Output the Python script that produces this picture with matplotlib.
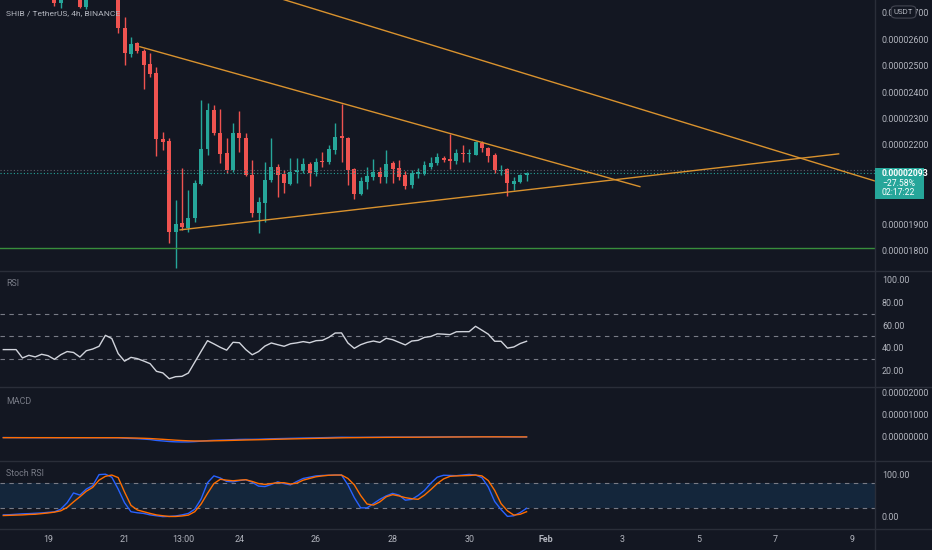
import numpy as np
import matplotlib.pyplot as plt
from matplotlib.lines import Line2D
from matplotlib.patches import Rectangle, FancyBboxPatch

plt.rcParams['font.family'] = ['Roboto', 'DejaVu Sans']

# 4h candles, bar number counted from Jan 19 00:00 (prices in 1e-8 USDT)
first_bar = -7
opens = [2860, 2850, 2870, 2855, 2815, 2840, 2810, 2785, 2790, 2738, 2775, 2800, 2790, 2722, 2770, 2795, 2820, 2810,
         2800, 2643, 2544, 2586, 2556, 2506, 2472, 2222, 2215, 1870, 1904, 1885, 1923, 2052, 2185, 2332, 2245, 2169,
         2105, 2245, 2226, 2086, 1942, 1980, 2067, 2116, 2090, 2052, 2097, 2101, 2128, 2097, 2139, 2135, 2181, 2234,
         2226, 2109, 2014, 2060, 2078, 2097, 2078, 2132, 2113, 2086, 2048, 2090, 2090, 2116, 2132, 2150, 2147, 2139,
         2169, 2166, 2162, 2207, 2188, 2162, 2101, 2109, 2052, 2060, 2086]
highs = [2890, 2880, 2900, 2870, 2850, 2860, 2830, 2810, 2805, 2800, 2820, 2830, 2805, 2790, 2810, 2830, 2850, 2830,
         2815, 2685, 2609, 2590, 2563, 2548, 2495, 2249, 2226, 1991, 2113, 2029, 2067, 2370, 2359, 2351, 2336, 2226,
         2283, 2328, 2245, 2143, 2003, 2135, 2226, 2128, 2105, 2150, 2150, 2150, 2135, 2150, 2173, 2200, 2283, 2355,
         2230, 2113, 2078, 2116, 2147, 2116, 2181, 2139, 2143, 2101, 2105, 2113, 2139, 2154, 2169, 2158, 2241, 2185,
         2200, 2185, 2215, 2215, 2192, 2169, 2124, 2113, 2078, 2090, 2097]
lows = [2830, 2820, 2845, 2800, 2790, 2800, 2770, 2760, 2725, 2719, 2760, 2765, 2718, 2716, 2755, 2780, 2800, 2785,
        2624, 2503, 2533, 2548, 2412, 2457, 2158, 2181, 1829, 1734, 1878, 1870, 1908, 2048, 2162, 2237, 2132, 2094,
        2097, 2173, 2082, 1927, 1866, 1908, 2060, 2003, 2018, 2048, 2056, 2094, 2044, 2082, 2116, 2128, 2166, 2135,
        2048, 1995, 2010, 2033, 2067, 2056, 2056, 2056, 2067, 2033, 2037, 2075, 2086, 2109, 2124, 2135, 2109, 2128,
        2135, 2135, 2162, 2173, 2135, 2094, 2086, 2007, 2029, 2056, 2063]
closes = [2850, 2870, 2855, 2815, 2840, 2810, 2785, 2790, 2738, 2775, 2800, 2790, 2722, 2770, 2795, 2820, 2810, 2800,
          2643, 2548, 2582, 2556, 2503, 2469, 2222, 2211, 1870, 1900, 1889, 1923, 2056, 2185, 2332, 2245, 2166, 2105,
          2245, 2226, 2086, 1942, 1984, 2067, 2116, 2086, 2056, 2097, 2105, 2128, 2094, 2135, 2135, 2185, 2230, 2226,
          2105, 2014, 2063, 2082, 2097, 2078, 2128, 2109, 2078, 2044, 2094, 2097, 2124, 2132, 2154, 2143, 2139, 2169,
          2166, 2169, 2211, 2188, 2158, 2105, 2105, 2056, 2063, 2086, 2093]

rsi = [38.5, 38.5, 38.5, 31.2, 33.5, 32.1, 34.4, 33.2, 30.0, 34.0, 36.8, 36.0, 32.0, 37.5, 39.0, 41.4, 51.0, 48.2,
       35.0, 28.4, 31.7, 30.6, 28.5, 26.2, 19.5, 18.1, 13.0, 14.8, 15.1, 18.0, 27.5, 37.0, 46.3, 43.5, 40.5, 38.0,
       44.9, 44.5, 38.5, 34.0, 36.8, 41.6, 44.3, 42.8, 41.4, 43.6, 44.4, 45.5, 44.5, 46.3, 46.6, 49.2, 53.0, 53.1,
       44.3, 39.6, 42.8, 44.8, 46.0, 44.8, 48.4, 47.2, 44.9, 42.6, 46.0, 46.6, 49.2, 50.0, 52.3, 52.0, 51.6, 54.1,
       54.2, 54.2, 58.9, 55.5, 52.0, 45.8, 45.8, 39.8, 40.8, 43.8, 45.8]

macd = [-30, -32, -33, -35, -36, -36, -37, -37, -38, -38, -38, -39, -39, -39, -39, -39, -40, -40,
        -40, -60, -70, -80, -100, -120, -160, -185, -210, -225, -230, -228, -215, -195, -170, -155, -145, -138,
        -125, -115, -110, -110, -105, -95, -85, -78, -72, -65, -58, -52, -48, -42, -36, -30, -22, -16,
        -17, -20, -20, -18, -15, -14, -11, -10, -10, -11, -10, -9, -7, -5, -2, 0, 1, 3,
        4, 5, 7, 7, 6, 3, 2, -2, -4, -4, -4]
signal = [-35, -35, -35, -35, -35, -35, -35, -35, -36, -36, -36, -36, -36, -37, -37, -37, -37, -37,
          -38, -42, -48, -54, -63, -75, -92, -110, -130, -149, -165, -178, -185, -187, -184, -178, -172, -165,
          -157, -149, -141, -135, -129, -122, -114, -107, -100, -93, -86, -79, -73, -67, -61, -55, -48, -42,
          -37, -34, -31, -28, -26, -23, -21, -19, -17, -16, -15, -14, -12, -11, -9, -7, -5, -4,
          -2, -1, 0, 2, 2, 3, 2, 2, 1, 0, 0]

stoch_k = [4.5, 5.0, 6.0, 7.0, 7.5, 8.3, 9.0, 10.5, 11.5, 18, 33, 56, 51, 65, 73, 99, 100, 93,
           65, 33, 12, 9.5, 8, 4.5, 2.5, 0.5, 1, 2, 4.5, 8, 18, 42, 80, 96, 91, 83,
           82, 85, 87, 81, 72, 71, 76, 82, 78, 75, 83, 90, 93, 96, 97, 97.5, 98, 98,
           75, 45, 21, 21, 31, 41, 49, 55, 51, 39, 41, 50, 62, 79, 93, 97.5, 97, 96.5,
           98, 99.5, 98, 92, 70, 36, 17, 1, 2.5, 10, 20]
stoch_d = [3.0, 3.5, 4.0, 4.5, 5.5, 6.0, 7.5, 9.0, 11, 14, 22, 35, 47, 60, 69, 86, 95, 98,
           92, 58, 27, 16, 12, 8, 4.5, 2.5, 0.8, 0.8, 2, 4, 12, 30, 55, 78, 88, 86,
           84.5, 86, 87, 83, 78, 76, 78, 80, 80, 77, 79, 86, 90, 94, 96, 97.5, 98, 98,
           90, 75, 50, 30, 27.5, 35, 47, 52, 49, 45, 42.5, 41, 51, 64, 78, 89, 95, 96,
           96.5, 97, 98, 96, 85, 62, 31, 14, 4, 6, 12]

# drawn lines: (bar, price) anchor pairs
far_line_bars, far_line_prices = [30, 140], [2802, 1986]
top_line_bars, top_line_prices = [14.4, 92.75], [2572, 2042]
bottom_line_bars, bottom_line_prices = [20.7, 123.9], [1878, 2166]
support_price = 1809
last_price = 2093
prev_close = 2105

# price scale labels (2000 and 2100 sit under the last price badge)
price_ticks = [1800, 1900, 2200, 2300, 2400, 2500, 2600, 2700]

tick_bars = [0, 12, 21.25, 30, 42, 54, 66, 78, 90, 102, 114, 126]
tick_labels = ['19', '21', '13:00', '24', '26', '28', '30', 'Feb', '3', '5', '7', '9']

bg = '#131722'
txt = '#B2B5BE'
up, down = '#26A69A', '#EF5350'
W, H = 932, 550
AX_R = 875

fig = plt.figure(figsize=(W / 100, H / 100), dpi=100, facecolor=bg)


def pane(top, bottom, ylim):
    ax = fig.add_axes([0, 1 - bottom / H, AX_R / W, (bottom - top) / H])
    ax.set_facecolor(bg)
    for s in ax.spines.values():
        s.set_visible(False)
    ax.set_xlim(-7.52, 129.6)
    ax.set_ylim(*ylim)
    ax.yaxis.tick_right()
    ax.tick_params(axis='y', length=0, pad=5, labelsize=6.4, labelcolor=txt)
    ax.tick_params(axis='x', length=0, labelbottom=False)
    return ax


x = np.arange(first_bar, first_bar + len(opens))
o, h, l, c = map(np.array, (opens, highs, lows, closes))

# price pane
ax = pane(0, 270, (1726, 2749))
colors = np.where(c >= o, up, down)
ax.vlines(x, l, h, colors=colors, lw=1)
body_lo = np.minimum(o, c)
body_h = np.maximum(np.abs(c - o), 3)
ax.bar(x, body_h, 0.62, bottom=body_lo, color=colors, lw=0)
ax.axhline(support_price, color='#388E3C', lw=1)
ax.axhline(prev_close, color='#5D606B', lw=0.8, ls=(0, (1, 2)))
ax.axhline(last_price, color=up, lw=0.8, ls=(0, (1, 2)))
for bx, py in [(far_line_bars, far_line_prices), (top_line_bars, top_line_prices),
               (bottom_line_bars, bottom_line_prices)]:
    ax.plot(bx, py, color='#D9922E', lw=1)
ax.set_yticks(price_ticks)
ax.set_yticklabels([f'{v / 1e8:.8f}' for v in price_ticks])
fig.text(6 / W, 1 - 13 / H, 'SHIB / TetherUS, 4h, BINANCE', color=txt, fontsize=6.1, va='center')

# RSI pane
ax = pane(271, 386.5, (6.2, 107.3))
for lvl in (70, 50, 30):
    ax.axhline(lvl, color='#787B86', lw=0.8, ls=(0, (4, 4)))
ax.plot(x, rsi, color='#D1D4DC', lw=1)
ax.set_yticks([20, 40, 60, 80, 100])
ax.set_yticklabels(['20.00', '40.00', '60.00', '80.00', '100.00'])
fig.text(6 / W, 1 - 283 / H, 'RSI', color='#787B86', fontsize=6.4, va='center')

# MACD pane
ax = pane(387.5, 460.7, (-1082, 2245))
ax.plot(x, macd, color='#2962FF', lw=1)
ax.plot(x, signal, color='#FF6D00', lw=1)
ax.set_yticks([0, 1000, 2000])
ax.set_yticklabels(['0.00000000', '0.00001000', '0.00002000'])
fig.text(6 / W, 1 - 401 / H, 'MACD', color='#787B86', fontsize=6.4, va='center')

# Stoch RSI pane
ax = pane(461.7, 528.5, (-27.4, 129.3))
ax.axhspan(20, 80, color='#2196F3', alpha=0.12, lw=0)
for lvl in (80, 20):
    ax.axhline(lvl, color='#787B86', lw=0.8, ls=(0, (4, 4)))
ax.plot(x, stoch_k, color='#2962FF', lw=1)
ax.plot(x, stoch_d, color='#FF6D00', lw=1)
ax.set_yticks([0, 100])
ax.set_yticklabels(['0.00', '100.00'])
ax.set_xticks(tick_bars)
ax.set_xticklabels(tick_labels)
ax.tick_params(axis='x', labelbottom=True, pad=4.5, labelsize=6.4, labelcolor=txt)
for t in ax.get_xticklabels():
    if t.get_text() == 'Feb':
        t.set_fontweight('bold')
fig.text(6 / W, 1 - 473 / H, 'Stoch RSI', color='#787B86', fontsize=6.4, va='center')

# separators
for yp in (270.5, 387, 461.2, 529):
    fig.add_artist(Line2D([0, 1], [1 - yp / H] * 2, color='#2A2E39', lw=1))
fig.add_artist(Line2D([AX_R / W] * 2, [0, 1], color='#2A2E39', lw=1))

# last price badge
fig.add_artist(Rectangle((AX_R / W, 1 - 199 / H), 49 / W, 31 / H, color=up, lw=0, zorder=10))
for yp, s, wt in [(173.5, '0.00002093', 'bold'), (183.5, '\u221227.58%', 'normal'), (193, '02:17:22', 'normal')]:
    fig.text(882 / W, 1 - yp / H, s, color='white', fontsize=6.2, va='center', fontweight=wt, zorder=11)

# currency badge
fig.add_artist(FancyBboxPatch((893 / W, 1 - 17 / H), 21 / W, 10 / H,
                              boxstyle='round,pad=0.002,rounding_size=0.006',
                              fc=bg, ec='#434651', lw=0.8, zorder=10))
fig.text(903.5 / W, 1 - 12 / H, 'USDT', color=txt, fontsize=5.6, ha='center', va='center', zorder=11)

fig.savefig('out.png', dpi=100, facecolor=bg)
